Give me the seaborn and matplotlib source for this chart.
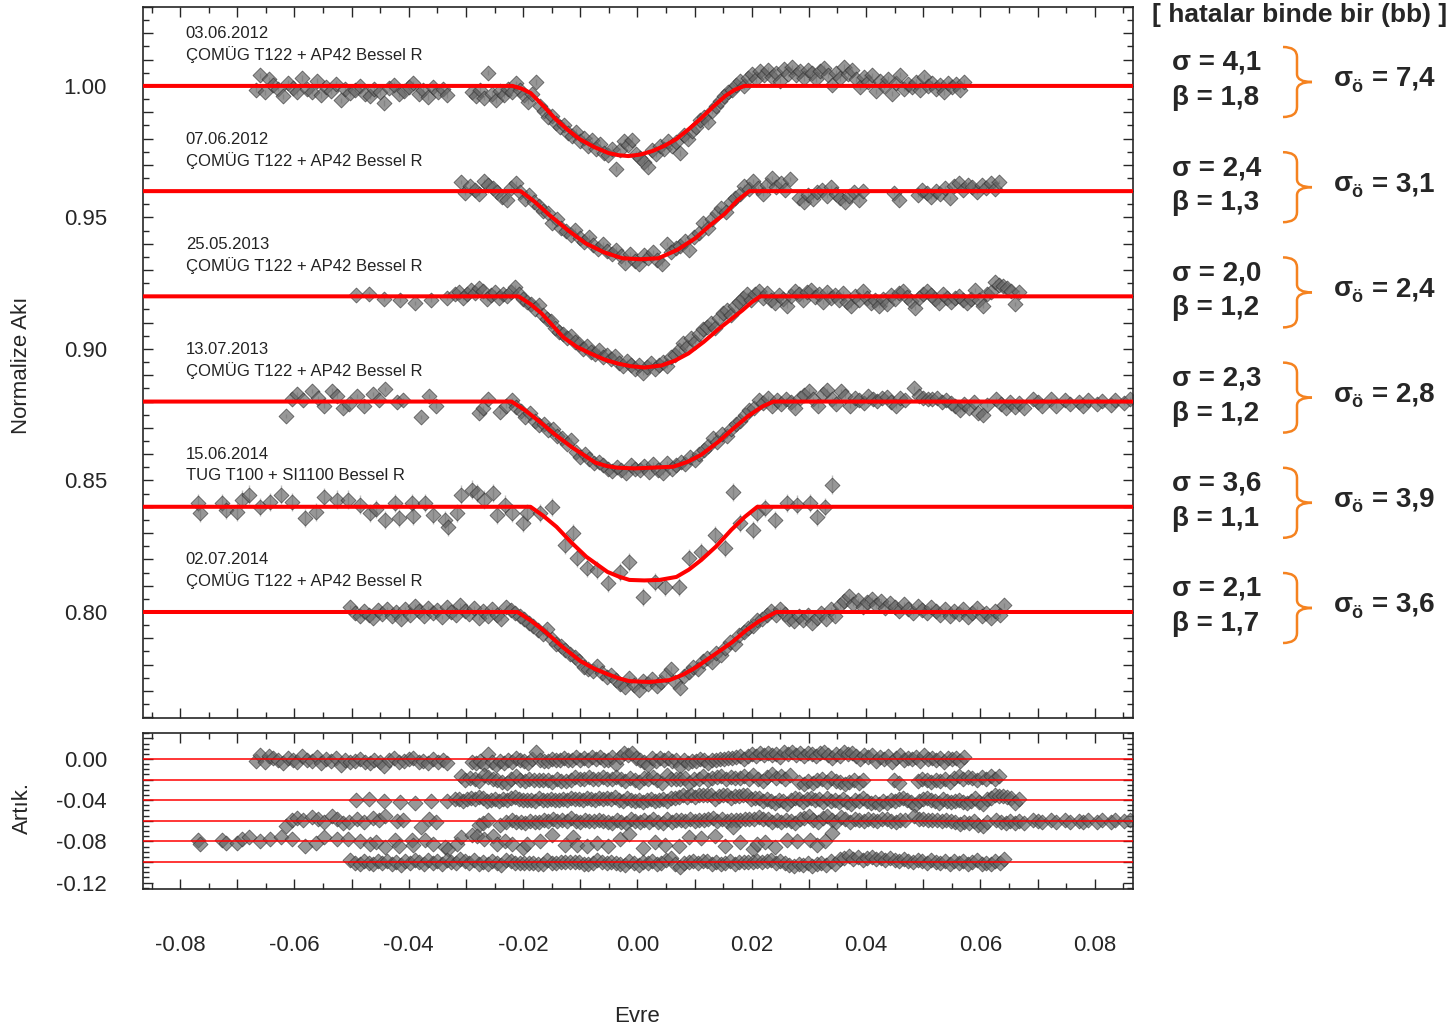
import numpy as np
import pandas as pd
import matplotlib
matplotlib.use("Agg")
import matplotlib.pyplot as plt
from matplotlib.ticker import MultipleLocator, FuncFormatter
from matplotlib.path import Path
from matplotlib.patches import PathPatch
import seaborn as sns

# ---------------- data ----------------
DATES = ["03.06.2012", "07.06.2012", "25.05.2013", "13.07.2013", "15.06.2014", "02.07.2014"]
SETUPS = ["ÇOMÜG T122 + AP42 Bessel R", "ÇOMÜG T122 + AP42 Bessel R",
          "ÇOMÜG T122 + AP42 Bessel R", "ÇOMÜG T122 + AP42 Bessel R",
          "TUG T100 + SI1100 Bessel R", "ÇOMÜG T122 + AP42 Bessel R"]
OFFSETS = [0.00, -0.04, -0.08, -0.12, -0.16, -0.20]
RES_OFFSETS = [0.00, -0.02, -0.04, -0.06, -0.08, -0.10]
SIGMA = ["4,1", "2,4", "2,0", "2,3", "3,6", "2,1"]
BETA = ["1,8", "1,3", "1,2", "1,2", "1,1", "1,7"]
SIGMA_O = ["7,4", "3,1", "2,4", "2,8", "3,9", "3,6"]
ERRS = [0.0010, 0.0008, 0.0008, 0.0008, 0.0035, 0.0008]

# (phase, normalized flux) per light curve
LC1 = [(-0.0668, 0.9985), (-0.0660, 1.0040), (-0.0652, 0.9975), (-0.0645, 1.0025), (-0.0637, 1.0005),
       (-0.0628, 0.9990), (-0.0620, 0.9960), (-0.0612, 1.0012), (-0.0603, 0.9992), (-0.0595, 0.9975),
       (-0.0587, 1.0030), (-0.0578, 0.9988), (-0.0570, 0.9978), (-0.0561, 1.0020), (-0.0553, 0.9965),
       (-0.0545, 0.9995), (-0.0536, 0.9980), (-0.0528, 1.0008), (-0.0519, 0.9945), (-0.0511, 0.9990),
       (-0.0502, 0.9972), (-0.0494, 0.9985), (-0.0485, 1.0000), (-0.0477, 0.9970), (-0.0468, 0.9962),
       (-0.0460, 0.9988), (-0.0451, 0.9975), (-0.0443, 0.9935), (-0.0434, 0.9992), (-0.0426, 1.0005),
       (-0.0417, 0.9968), (-0.0409, 0.9980), (-0.0400, 0.9995), (-0.0392, 1.0010), (-0.0383, 0.9970),
       (-0.0375, 0.9985), (-0.0366, 0.9958), (-0.0358, 0.9995), (-0.0349, 0.9975), (-0.0341, 0.9990),
       (-0.0333, 0.9965), (-0.0290, 0.9975), (-0.0283, 0.9960), (-0.0276, 0.9985), (-0.0269, 0.9955),
       (-0.0262, 1.0050), (-0.0255, 0.9970), (-0.0248, 0.9945), (-0.0241, 0.9982), (-0.0234, 0.9965),
       (-0.0227, 0.9990), (-0.0220, 0.9975), (-0.0213, 1.0010), (-0.0206, 0.9985), (-0.0199, 0.9965),
       (-0.0192, 0.9940), (-0.0185, 0.9968), (-0.0177, 1.0015), (-0.0170, 0.9925), (-0.0163, 0.9905),
       (-0.0156, 0.9880), (-0.0149, 0.9885), (-0.0142, 0.9860), (-0.0135, 0.9845), (-0.0128, 0.9852),
       (-0.0121, 0.9820), (-0.0114, 0.9810), (-0.0107, 0.9825), (-0.0100, 0.9790), (-0.0093, 0.9802),
       (-0.0086, 0.9770), (-0.0079, 0.9795), (-0.0072, 0.9760), (-0.0065, 0.9780), (-0.0058, 0.9745),
       (-0.0051, 0.9738), (-0.0044, 0.9760), (-0.0037, 0.9685), (-0.0030, 0.9755), (-0.0023, 0.9790),
       (-0.0016, 0.9775), (-0.0009, 0.9795), (-0.0002, 0.9742), (0.0005, 0.9725), (0.0012, 0.9712),
       (0.0019, 0.9690), (0.0026, 0.9758), (0.0033, 0.9740), (0.0040, 0.9772), (0.0047, 0.9760),
       (0.0054, 0.9790), (0.0061, 0.9770), (0.0068, 0.9788), (0.0075, 0.9745), (0.0082, 0.9815),
       (0.0089, 0.9798), (0.0096, 0.9830), (0.0103, 0.9845), (0.0110, 0.9872), (0.0117, 0.9880),
       (0.0124, 0.9862), (0.0131, 0.9905), (0.0138, 0.9925), (0.0145, 0.9942), (0.0152, 0.9960),
       (0.0159, 0.9975), (0.0166, 0.9985), (0.0173, 1.0005), (0.0180, 1.0018), (0.0187, 0.9998),
       (0.0194, 1.0030), (0.0201, 1.0045), (0.0208, 1.0025), (0.0215, 1.0055), (0.0222, 1.0040),
       (0.0229, 1.0060), (0.0236, 1.0035), (0.0243, 1.0050), (0.0250, 1.0020), (0.0257, 1.0065),
       (0.0264, 1.0045), (0.0271, 1.0070), (0.0278, 1.0040), (0.0285, 1.0058), (0.0292, 1.0030),
       (0.0299, 1.0062), (0.0306, 1.0048), (0.0313, 1.0025), (0.0320, 1.0055), (0.0327, 1.0068),
       (0.0334, 1.0040), (0.0341, 1.0005), (0.0348, 1.0050), (0.0355, 1.0030), (0.0362, 1.0072),
       (0.0369, 1.0045), (0.0376, 1.0060), (0.0383, 1.0025), (0.0390, 0.9995), (0.0397, 1.0035),
       (0.0404, 1.0015), (0.0411, 1.0040), (0.0418, 0.9980), (0.0425, 1.0020), (0.0432, 1.0000),
       (0.0439, 1.0028), (0.0446, 0.9970), (0.0453, 1.0010), (0.0460, 1.0042), (0.0467, 0.9990),
       (0.0474, 1.0008), (0.0481, 0.9995), (0.0488, 1.0015), (0.0495, 0.9985), (0.0502, 1.0035),
       (0.0509, 0.9998), (0.0516, 1.0012), (0.0523, 0.9990), (0.0530, 1.0005), (0.0537, 0.9975),
       (0.0544, 1.0010), (0.0551, 0.9995), (0.0558, 1.0008), (0.0565, 0.9985), (0.0572, 1.0015)]

LC2 = [(-0.0309, 1.0035), (-0.0301, 0.9992), (-0.0293, 1.0018), (-0.0285, 1.0005), (-0.0277, 0.9990),
       (-0.0269, 1.0040), (-0.0261, 1.0022), (-0.0253, 1.0010), (-0.0245, 0.9995), (-0.0237, 0.9978),
       (-0.0229, 0.9968), (-0.0221, 1.0010), (-0.0213, 1.0030), (-0.0205, 0.9995), (-0.0197, 0.9970),
       (-0.0189, 0.9985), (-0.0181, 0.9960), (-0.0173, 0.9945), (-0.0165, 0.9925), (-0.0157, 0.9915),
       (-0.0149, 0.9880), (-0.0141, 0.9895), (-0.0133, 0.9860), (-0.0125, 0.9848), (-0.0117, 0.9835),
       (-0.0109, 0.9852), (-0.0101, 0.9820), (-0.0093, 0.9808), (-0.0085, 0.9825), (-0.0077, 0.9795),
       (-0.0069, 0.9780), (-0.0061, 0.9798), (-0.0053, 0.9772), (-0.0045, 0.9760), (-0.0037, 0.9778),
       (-0.0029, 0.9752), (-0.0021, 0.9728), (-0.0013, 0.9760), (-0.0005, 0.9735), (0.0003, 0.9722),
       (0.0011, 0.9758), (0.0019, 0.9745), (0.0027, 0.9770), (0.0035, 0.9738), (0.0043, 0.9722),
       (0.0051, 0.9800), (0.0059, 0.9768), (0.0067, 0.9782), (0.0075, 0.9790), (0.0083, 0.9812),
       (0.0091, 0.9775), (0.0099, 0.9825), (0.0107, 0.9842), (0.0115, 0.9878), (0.0123, 0.9858),
       (0.0131, 0.9895), (0.0139, 0.9918), (0.0147, 0.9935), (0.0155, 0.9922), (0.0163, 0.9960),
       (0.0171, 0.9975), (0.0179, 0.9990), (0.0187, 1.0020), (0.0195, 1.0008), (0.0203, 1.0040),
       (0.0211, 1.0010), (0.0219, 0.9990), (0.0227, 1.0025), (0.0235, 1.0050), (0.0243, 1.0015),
       (0.0251, 1.0030), (0.0259, 1.0005), (0.0267, 1.0045), (0.0283, 0.9975), (0.0291, 0.9960),
       (0.0299, 0.9985), (0.0307, 0.9970), (0.0315, 0.9995), (0.0323, 1.0005), (0.0331, 0.9980),
       (0.0339, 1.0015), (0.0347, 0.9990), (0.0355, 0.9975), (0.0363, 0.9960), (0.0371, 0.9980),
       (0.0379, 0.9995), (0.0387, 0.9965), (0.0395, 1.0000), (0.0448, 0.9992), (0.0458, 0.9965),
       (0.0490, 0.9985), (0.0498, 1.0005), (0.0506, 0.9992), (0.0514, 0.9978), (0.0522, 1.0000),
       (0.0530, 0.9988), (0.0538, 1.0010), (0.0546, 0.9975), (0.0554, 1.0020), (0.0562, 1.0030),
       (0.0570, 1.0005), (0.0578, 1.0025), (0.0586, 1.0015), (0.0594, 0.9998), (0.0602, 1.0022),
       (0.0610, 1.0010), (0.0618, 1.0030), (0.0626, 1.0008), (0.0633, 1.0035)]

LC3 = [(-0.0493, 1.0005), (-0.0470, 1.0010), (-0.0443, 0.9990), (-0.0415, 0.9985), (-0.0390, 0.9975),
       (-0.0362, 0.9988), (-0.0334, 0.9995), (-0.0320, 1.0008), (-0.0313, 1.0015), (-0.0306, 0.9995),
       (-0.0299, 1.0010), (-0.0292, 1.0025), (-0.0285, 1.0012), (-0.0278, 1.0030), (-0.0271, 1.0020),
       (-0.0264, 0.9990), (-0.0257, 1.0005), (-0.0250, 1.0015), (-0.0243, 0.9995), (-0.0236, 1.0008),
       (-0.0229, 1.0000), (-0.0222, 1.0018), (-0.0215, 1.0035), (-0.0208, 1.0010), (-0.0201, 0.9990),
       (-0.0194, 0.9978), (-0.0187, 0.9970), (-0.0180, 0.9950), (-0.0173, 0.9968), (-0.0166, 0.9930),
       (-0.0159, 0.9912), (-0.0152, 0.9905), (-0.0145, 0.9880), (-0.0138, 0.9865), (-0.0131, 0.9858),
       (-0.0124, 0.9840), (-0.0117, 0.9850), (-0.0110, 0.9825), (-0.0103, 0.9818), (-0.0096, 0.9800),
       (-0.0089, 0.9812), (-0.0082, 0.9790), (-0.0075, 0.9780), (-0.0068, 0.9795), (-0.0061, 0.9770),
       (-0.0054, 0.9778), (-0.0047, 0.9762), (-0.0040, 0.9775), (-0.0033, 0.9748), (-0.0026, 0.9735),
       (-0.0019, 0.9755), (-0.0012, 0.9740), (-0.0005, 0.9722), (0.0002, 0.9738), (0.0009, 0.9710),
       (0.0016, 0.9730), (0.0023, 0.9745), (0.0030, 0.9725), (0.0037, 0.9738), (0.0044, 0.9752),
       (0.0051, 0.9735), (0.0058, 0.9768), (0.0065, 0.9778), (0.0072, 0.9795), (0.0079, 0.9822),
       (0.0086, 0.9808), (0.0093, 0.9840), (0.0100, 0.9828), (0.0107, 0.9858), (0.0114, 0.9875),
       (0.0121, 0.9885), (0.0128, 0.9900), (0.0135, 0.9878), (0.0142, 0.9918), (0.0149, 0.9935),
       (0.0156, 0.9948), (0.0163, 0.9930), (0.0170, 0.9962), (0.0177, 0.9980), (0.0184, 0.9995),
       (0.0191, 1.0010), (0.0198, 0.9985), (0.0205, 1.0008), (0.0212, 1.0020), (0.0219, 0.9995),
       (0.0226, 1.0012), (0.0233, 0.9988), (0.0240, 0.9975), (0.0247, 1.0005), (0.0254, 0.9990),
       (0.0261, 0.9965), (0.0268, 1.0000), (0.0275, 1.0020), (0.0282, 1.0008), (0.0289, 0.9985),
       (0.0296, 1.0015), (0.0303, 1.0025), (0.0310, 0.9998), (0.0317, 1.0010), (0.0324, 0.9980),
       (0.0331, 1.0018), (0.0338, 0.9995), (0.0345, 1.0005), (0.0352, 0.9985), (0.0359, 1.0012),
       (0.0366, 0.9978), (0.0373, 0.9965), (0.0380, 1.0002), (0.0387, 0.9988), (0.0394, 1.0020),
       (0.0401, 0.9995), (0.0408, 0.9975), (0.0415, 0.9985), (0.0422, 0.9962), (0.0429, 0.9990),
       (0.0436, 0.9972), (0.0443, 1.0005), (0.0450, 0.9990), (0.0457, 1.0012), (0.0464, 1.0022),
       (0.0471, 0.9998), (0.0478, 0.9982), (0.0485, 0.9955), (0.0492, 0.9995), (0.0499, 1.0010),
       (0.0506, 1.0020), (0.0513, 1.0005), (0.0520, 0.9990), (0.0527, 0.9975), (0.0534, 1.0008),
       (0.0541, 0.9992), (0.0548, 0.9980), (0.0555, 0.9995), (0.0562, 1.0000), (0.0569, 0.9985),
       (0.0576, 0.9975), (0.0583, 0.9990), (0.0590, 1.0025), (0.0597, 0.9985), (0.0604, 0.9965),
       (0.0611, 1.0010), (0.0618, 1.0018), (0.0625, 1.0055), (0.0632, 1.0045), (0.0639, 1.0040),
       (0.0646, 1.0030), (0.0653, 1.0020), (0.0660, 0.9970), (0.0667, 1.0015)]

LC4 = [(-0.0615, 0.9945), (-0.0605, 1.0010), (-0.0595, 1.0028), (-0.0585, 1.0005), (-0.0570, 1.0040),
       (-0.0558, 1.0015), (-0.0548, 0.9985), (-0.0535, 1.0042), (-0.0525, 1.0020), (-0.0515, 0.9975),
       (-0.0505, 0.9992), (-0.0490, 1.0020), (-0.0478, 0.9985), (-0.0462, 1.0030), (-0.0452, 1.0005),
       (-0.0442, 1.0048), (-0.0420, 1.0000), (-0.0410, 1.0005), (-0.0378, 0.9940), (-0.0365, 1.0020),
       (-0.0352, 0.9985), (-0.0278, 0.9955), (-0.0270, 0.9975), (-0.0262, 1.0010), (-0.0240, 0.9960),
       (-0.0230, 0.9985), (-0.0220, 1.0005), (-0.0212, 0.9980), (-0.0204, 0.9965), (-0.0196, 0.9940),
       (-0.0188, 0.9955), (-0.0180, 0.9925), (-0.0172, 0.9910), (-0.0164, 0.9915), (-0.0156, 0.9890),
       (-0.0148, 0.9895), (-0.0140, 0.9870), (-0.0132, 0.9860), (-0.0124, 0.9840), (-0.0116, 0.9852),
       (-0.0108, 0.9810), (-0.0100, 0.9790), (-0.0092, 0.9800), (-0.0084, 0.9780), (-0.0076, 0.9765),
       (-0.0068, 0.9770), (-0.0060, 0.9760), (-0.0052, 0.9745), (-0.0044, 0.9735), (-0.0036, 0.9752),
       (-0.0028, 0.9740), (-0.0020, 0.9728), (-0.0012, 0.9760), (-0.0004, 0.9745), (0.0004, 0.9738),
       (0.0012, 0.9755), (0.0020, 0.9732), (0.0028, 0.9762), (0.0036, 0.9740), (0.0044, 0.9728),
       (0.0052, 0.9765), (0.0060, 0.9745), (0.0068, 0.9760), (0.0076, 0.9770), (0.0084, 0.9762),
       (0.0092, 0.9790), (0.0100, 0.9778), (0.0108, 0.9800), (0.0116, 0.9815), (0.0124, 0.9832),
       (0.0132, 0.9860), (0.0140, 0.9845), (0.0148, 0.9875), (0.0156, 0.9868), (0.0164, 0.9895),
       (0.0172, 0.9915), (0.0180, 0.9928), (0.0188, 0.9950), (0.0196, 0.9968), (0.0204, 0.9975),
       (0.0212, 1.0005), (0.0220, 0.9995), (0.0228, 1.0012), (0.0236, 0.9985), (0.0244, 1.0005),
       (0.0252, 0.9990), (0.0260, 1.0008), (0.0268, 1.0000), (0.0276, 0.9975), (0.0284, 1.0015),
       (0.0292, 1.0025), (0.0300, 1.0042), (0.0308, 1.0010), (0.0316, 0.9985), (0.0324, 1.0030),
       (0.0332, 1.0045), (0.0340, 1.0008), (0.0348, 0.9990), (0.0356, 1.0040), (0.0364, 1.0020),
       (0.0372, 0.9985), (0.0380, 1.0015), (0.0388, 1.0005), (0.0396, 0.9995), (0.0404, 1.0020),
       (0.0412, 1.0008), (0.0420, 1.0002), (0.0428, 1.0015), (0.0436, 1.0018), (0.0444, 1.0000),
       (0.0452, 0.9985), (0.0460, 1.0012), (0.0468, 1.0005), (0.0484, 1.0050), (0.0492, 1.0020),
       (0.0500, 1.0015), (0.0508, 1.0010), (0.0516, 1.0008), (0.0524, 1.0012), (0.0532, 1.0000),
       (0.0540, 1.0005), (0.0548, 0.9995), (0.0556, 0.9985), (0.0564, 0.9968), (0.0572, 0.9992),
       (0.0580, 0.9975), (0.0588, 1.0000), (0.0596, 0.9958), (0.0604, 0.9950), (0.0612, 0.9988),
       (0.0628, 1.0008), (0.0636, 0.9990), (0.0644, 0.9975), (0.0652, 1.0000), (0.0660, 0.9980),
       (0.0668, 0.9995), (0.0676, 0.9975), (0.0692, 1.0010), (0.0700, 0.9998), (0.0708, 0.9985),
       (0.0724, 1.0010), (0.0732, 0.9985), (0.0748, 1.0005), (0.0756, 0.9990), (0.0772, 1.0000),
       (0.0780, 0.9985), (0.0788, 1.0005), (0.0804, 0.9992), (0.0812, 1.0003), (0.0828, 0.9988),
       (0.0836, 1.0005), (0.0852, 0.9995), (0.0862, 1.0008)]

LC5 = [(-0.0769, 1.0015), (-0.0766, 0.9977), (-0.0727, 1.0015), (-0.0720, 0.9989), (-0.0701, 0.9981),
       (-0.0691, 1.0027), (-0.0680, 1.0046), (-0.0661, 1.0000), (-0.0642, 1.0019), (-0.0624, 1.0046),
       (-0.0605, 1.0019), (-0.0582, 0.9958), (-0.0563, 0.9981), (-0.0549, 1.0038), (-0.0526, 1.0027),
       (-0.0507, 1.0027), (-0.0486, 1.0008), (-0.0467, 0.9977), (-0.0458, 0.9992), (-0.0441, 0.9950),
       (-0.0425, 1.0015), (-0.0418, 0.9958), (-0.0395, 1.0015), (-0.0392, 0.9966), (-0.0372, 1.0015),
       (-0.0358, 0.9970), (-0.0336, 0.9950), (-0.0332, 0.9924), (-0.0316, 0.9977), (-0.0309, 1.0046),
       (-0.0290, 1.0065), (-0.0280, 1.0053), (-0.0269, 1.0027), (-0.0253, 1.0053), (-0.0246, 0.9970),
       (-0.0231, 1.0008), (-0.0220, 0.9977), (-0.0201, 0.9939), (-0.0194, 0.9977), (-0.0171, 0.9977),
       (-0.0149, 1.0000), (-0.0126, 0.9855), (-0.0112, 0.9901), (-0.0105, 0.9806), (-0.0089, 0.9768),
       (-0.0070, 0.9760), (-0.0052, 0.9710), (-0.0030, 0.9752), (-0.0014, 0.9790), (0.0009, 0.9657),
       (0.0030, 0.9714), (0.0049, 0.9695), (0.0072, 0.9695), (0.0091, 0.9806), (0.0112, 0.9829),
       (0.0135, 0.9893), (0.0154, 0.9844), (0.0168, 1.0057), (0.0180, 0.9939), (0.0203, 0.9912),
       (0.0210, 0.9977), (0.0224, 0.9996), (0.0240, 0.9950), (0.0262, 1.0015), (0.0280, 1.0008),
       (0.0302, 1.0015), (0.0315, 0.9962), (0.0329, 1.0000), (0.0341, 1.0084)]

LC6 = [(-0.0502, 1.0020), (-0.0494, 0.9995), (-0.0486, 0.9985), (-0.0478, 1.0005), (-0.0470, 0.9990),
       (-0.0462, 0.9978), (-0.0454, 1.0008), (-0.0446, 0.9992), (-0.0438, 1.0012), (-0.0430, 0.9985),
       (-0.0422, 1.0000), (-0.0414, 0.9975), (-0.0406, 1.0010), (-0.0398, 0.9990), (-0.0390, 1.0022),
       (-0.0382, 1.0002), (-0.0374, 0.9985), (-0.0366, 1.0015), (-0.0358, 0.9995), (-0.0350, 1.0008),
       (-0.0342, 0.9980), (-0.0334, 1.0018), (-0.0326, 1.0000), (-0.0318, 0.9988), (-0.0310, 1.0025),
       (-0.0302, 1.0005), (-0.0294, 0.9992), (-0.0286, 1.0015), (-0.0278, 0.9978), (-0.0270, 1.0002),
       (-0.0262, 0.9985), (-0.0254, 1.0010), (-0.0246, 0.9990), (-0.0238, 0.9975), (-0.0230, 1.0020),
       (-0.0222, 1.0008), (-0.0214, 0.9995), (-0.0206, 0.9985), (-0.0198, 0.9972), (-0.0190, 0.9960),
       (-0.0182, 0.9948), (-0.0174, 0.9930), (-0.0166, 0.9918), (-0.0158, 0.9935), (-0.0150, 0.9898),
       (-0.0142, 0.9880), (-0.0134, 0.9872), (-0.0126, 0.9855), (-0.0118, 0.9842), (-0.0110, 0.9828),
       (-0.0102, 0.9815), (-0.0094, 0.9790), (-0.0086, 0.9782), (-0.0078, 0.9775), (-0.0070, 0.9795),
       (-0.0062, 0.9768), (-0.0054, 0.9752), (-0.0046, 0.9760), (-0.0038, 0.9742), (-0.0030, 0.9728),
       (-0.0022, 0.9715), (-0.0014, 0.9748), (-0.0006, 0.9722), (0.0002, 0.9705), (0.0010, 0.9738),
       (0.0018, 0.9725), (0.0026, 0.9745), (0.0034, 0.9718), (0.0042, 0.9732), (0.0050, 0.9760),
       (0.0058, 0.9785), (0.0066, 0.9735), (0.0074, 0.9712), (0.0082, 0.9758), (0.0090, 0.9772),
       (0.0098, 0.9790), (0.0106, 0.9782), (0.0114, 0.9812), (0.0122, 0.9825), (0.0130, 0.9808),
       (0.0138, 0.9845), (0.0146, 0.9838), (0.0154, 0.9862), (0.0162, 0.9885), (0.0170, 0.9878),
       (0.0178, 0.9912), (0.0186, 0.9925), (0.0194, 0.9938), (0.0202, 0.9945), (0.0210, 0.9968),
       (0.0218, 0.9975), (0.0226, 0.9990), (0.0234, 1.0005), (0.0242, 0.9988), (0.0250, 1.0010),
       (0.0258, 0.9992), (0.0266, 0.9975), (0.0274, 0.9965), (0.0282, 0.9985), (0.0290, 0.9970),
       (0.0298, 0.9990), (0.0306, 0.9958), (0.0314, 0.9978), (0.0322, 0.9995), (0.0330, 0.9972),
       (0.0338, 1.0010), (0.0346, 0.9985), (0.0354, 1.0025), (0.0362, 1.0040), (0.0370, 1.0060),
       (0.0378, 1.0030), (0.0386, 1.0045), (0.0394, 1.0020), (0.0402, 1.0038), (0.0410, 1.0050),
       (0.0418, 1.0025), (0.0426, 1.0042), (0.0434, 1.0015), (0.0442, 1.0035), (0.0450, 1.0020),
       (0.0458, 1.0005), (0.0466, 1.0030), (0.0474, 1.0012), (0.0482, 0.9998), (0.0490, 1.0022),
       (0.0498, 1.0008), (0.0506, 0.9995), (0.0514, 1.0018), (0.0522, 1.0002), (0.0530, 0.9990),
       (0.0538, 1.0012), (0.0546, 0.9985), (0.0554, 1.0005), (0.0562, 0.9992), (0.0570, 1.0010),
       (0.0578, 0.9980), (0.0586, 0.9998), (0.0594, 1.0015), (0.0602, 0.9985), (0.0610, 0.9995),
       (0.0618, 0.9978), (0.0626, 1.0005), (0.0634, 0.9990), (0.0642, 1.0025)]

# model curves (phase, normalized flux)
MOD1 = [(-0.0900, 1.0), (-0.02185, 1.0), (-0.0203, 0.9990), (-0.01871, 0.99733), (-0.0165, 0.9925),
        (-0.01434, 0.98743), (-0.0122, 0.9833), (-0.01014, 0.97981), (-0.0076, 0.9768),
        (-0.00507, 0.97448), (-0.0033, 0.97365), (-0.00157, 0.97333), (0.0005, 0.9739),
        (0.00262, 0.97524), (0.0047, 0.9772), (0.00682, 0.97981), (0.0089, 0.9834),
        (0.01101, 0.98743), (0.0132, 0.9920), (0.01538, 0.99619), (0.0170, 0.9985),
        (0.01871, 1.0), (0.0900, 1.0)]
MOD2 = [(-0.0900, 1.0), (-0.02045, 1.0), (-0.0180, 0.9960), (-0.01538, 0.99086), (-0.0122, 0.9852),
        (-0.00909, 0.98019), (-0.0058, 0.9767), (-0.00262, 0.97448), (0.00052, 0.97410),
        (0.00367, 0.97448), (0.0070, 0.9777), (0.01014, 0.98210), (0.0127, 0.9870),
        (0.01521, 0.99124), (0.0175, 0.9965), (0.01958, 1.0), (0.0900, 1.0)]
MOD3 = [(-0.0900, 1.0), (-0.02080, 1.0), (-0.0188, 0.9972), (-0.01678, 0.99352), (-0.01294, 0.98438),
        (-0.0106, 0.9808), (-0.00822, 0.97829), (-0.0058, 0.9760), (-0.00350, 0.97448),
        (-0.0012, 0.97345), (0.00122, 0.97295), (0.00420, 0.97371), (0.0066, 0.9756),
        (0.00892, 0.97829), (0.0116, 0.9827), (0.01434, 0.98781), (0.01836, 0.99467),
        (0.0200, 0.9978), (0.02150, 1.0), (0.0900, 1.0)]
MOD4 = [(-0.0900, 1.0), (-0.02203, 1.0), (-0.0196, 0.9966), (-0.01713, 0.99238), (-0.0142, 0.9871),
        (-0.01136, 0.98248), (-0.00734, 0.97676), (-0.0054, 0.9755), (-0.00350, 0.97486),
        (-0.0005, 0.9746), (0.00245, 0.97486), (0.00629, 0.97524), (0.0088, 0.9771),
        (0.01119, 0.97981), (0.0141, 0.9846), (0.01696, 0.99010), (0.0195, 0.9947),
        (0.02185, 0.99810), (0.02378, 1.0), (0.0900, 1.0)]
MOD5 = [(-0.0900, 1.0), (-0.01871, 1.0), (-0.0165, 0.9966), (-0.01416, 0.99238), (-0.0115, 0.9863),
        (-0.00892, 0.98095), (-0.00524, 0.97524), (-0.0033, 0.9735), (-0.00140, 0.97219),
        (0.0012, 0.9720), (0.00385, 0.97219), (0.00682, 0.97333), (0.0090, 0.9761),
        (0.01119, 0.97981), (0.0138, 0.9850), (0.01643, 0.99124), (0.0188, 0.9962),
        (0.02098, 1.0), (0.0900, 1.0)]
MOD6 = [(-0.0900, 1.0), (-0.02098, 1.0), (-0.0187, 0.9968), (-0.01626, 0.99276), (-0.0131, 0.9867),
        (-0.00997, 0.98133), (-0.0076, 0.9785), (-0.00524, 0.97638), (-0.0033, 0.9748),
        (-0.00140, 0.97371), (0.0021, 0.9734), (0.00560, 0.97410), (0.0080, 0.9762),
        (0.01031, 0.97905), (0.0134, 0.9837), (0.01661, 0.98857), (0.0190, 0.9930),
        (0.02133, 0.99657), (0.02430, 1.0), (0.0900, 1.0)]

CURVES = [LC1, LC2, LC3, LC4, LC5, LC6]
MODELS = [MOD1, MOD2, MOD3, MOD4, MOD5, MOD6]

# ---------------- style ----------------
sns.set_style("ticks")
plt.rcParams["font.family"] = ["Liberation Sans", "DejaVu Sans"]
plt.rcParams["axes.linewidth"] = 1.2

W, H = 1453, 1029
fig = plt.figure(figsize=(W / 100, H / 100), dpi=100)


def fx(px):
    return px / W


def fy(py):
    return 1 - py / H


ax = fig.add_axes([fx(143), fy(718), fx(1133) - fx(143), fy(7) - fy(718)])
axr = fig.add_axes([fx(143), fy(889), fx(1133) - fx(143), fy(733) - fy(889)])

XLIM = (-0.0865, 0.0867)
face = "#666666"
edge = "#2e2e2e"

frames = []
res_frames = []
for i, (lc, mod) in enumerate(zip(CURVES, MODELS)):
    ph = np.array([p[0] for p in lc])
    fl = np.array([p[1] for p in lc])
    mph = np.array([p[0] for p in mod])
    mfl = np.array([p[1] for p in mod])
    frames.append(pd.DataFrame({"phase": ph, "flux": fl + OFFSETS[i], "set": i}))
    res = fl - np.interp(ph, mph, mfl) + RES_OFFSETS[i]
    res_frames.append(pd.DataFrame({"phase": ph, "res": res, "set": i}))
    ax.errorbar(ph, fl + OFFSETS[i], yerr=ERRS[i], fmt="none", ecolor="#c0c0c0",
                elinewidth=1.0, zorder=1)
df = pd.concat(frames, ignore_index=True)
dres = pd.concat(res_frames, ignore_index=True)

sns.scatterplot(data=df, x="phase", y="flux", ax=ax, marker="D", s=58,
                color=face, edgecolor=edge, linewidth=0.6, alpha=0.68, zorder=2, legend=False)
for i, mod in enumerate(MODELS):
    mph = [p[0] for p in mod]
    mfl = [p[1] + OFFSETS[i] for p in mod]
    sns.lineplot(x=mph, y=mfl, ax=ax, color="#ff0000", lw=2.9, sort=True,
                 estimator=None, zorder=3)

sns.scatterplot(data=dres, x="phase", y="res", ax=axr, marker="D", s=58,
                color=face, edgecolor=edge, linewidth=0.6, alpha=0.68, zorder=2, legend=False)
for off in RES_OFFSETS:
    axr.axhline(off, color="#ff0000", lw=1.1, zorder=3)

for i in range(6):
    ax.text(-0.0790, 1.0198 + OFFSETS[i], DATES[i], fontsize=12, color="#222222",
            ha="left", va="center")
    ax.text(-0.0790, 1.0118 + OFFSETS[i], SETUPS[i], fontsize=12, color="#222222",
            ha="left", va="center")

ax.set_xlim(*XLIM)
ax.set_ylim(0.7597, 1.0300)
axr.set_xlim(*XLIM)
axr.set_ylim(-0.1262, 0.0252)


def lab_every(step):
    def f(v, pos):
        k = v / step
        if abs(k - round(k)) < 1e-6:
            s = f"{v:.2f}"
            if s == "-0.00":
                s = "0.00"
            return s
        return ""
    return f


for a in (ax, axr):
    a.xaxis.set_major_locator(MultipleLocator(0.01))
    a.xaxis.set_minor_locator(MultipleLocator(0.005))
    a.tick_params(which="both", direction="in", top=True, right=True, width=1.0)
    a.tick_params(which="major", length=7)
    a.tick_params(which="minor", length=4)
    a.set_xlabel("")
    a.set_ylabel("")
    for sp in a.spines.values():
        sp.set_visible(True)
        sp.set_linewidth(1.2)

ax.yaxis.set_major_locator(MultipleLocator(0.01))
ax.yaxis.set_minor_locator(MultipleLocator(0.005))
ax.yaxis.set_major_formatter(FuncFormatter(lab_every(0.05)))
ax.tick_params(axis="x", labelbottom=False)
ax.tick_params(axis="y", labelsize=16, pad=26)

axr.yaxis.set_major_locator(MultipleLocator(0.02))
axr.yaxis.set_minor_locator(MultipleLocator(0.005))
axr.yaxis.set_major_formatter(FuncFormatter(lab_every(0.04)))
axr.xaxis.set_major_formatter(FuncFormatter(lab_every(0.02)))
axr.tick_params(axis="y", labelsize=16, pad=26)
axr.tick_params(axis="x", labelsize=16, pad=33)

fig.text(fx(22), fy(365), "Normalize Akı", rotation=90, ha="center", va="center", fontsize=16)
fig.text(fx(22), fy(808), "Artık.", rotation=90, ha="center", va="center", fontsize=16)
fig.text(fx(637), fy(1017), "Evre", ha="center", va="center", fontsize=16)

# right-hand error summary
fig.text(fx(1300), fy(15), "[ hatalar binde bir (bb) ]", ha="center", va="center",
         fontsize=19, fontweight="bold")
orange = "#f5821f"
for i in range(6):
    yc = 80 + 105.2 * i
    fig.text(fx(1172), fy(yc - 17), f"σ = {SIGMA[i]}", ha="left", va="center",
             fontsize=20, fontweight="bold")
    fig.text(fx(1172), fy(yc + 18), f"β = {BETA[i]}", ha="left", va="center",
             fontsize=20, fontweight="bold")
    fig.text(fx(1334), fy(yc - 1), "σ", ha="left", va="center", fontsize=20, fontweight="bold")
    fig.text(fx(1351), fy(yc + 7), "ö", ha="left", va="center", fontsize=13, fontweight="bold")
    fig.text(fx(1372), fy(yc - 1), f"= {SIGMA_O[i]}", ha="left", va="center",
             fontsize=20, fontweight="bold")
    top, bot, mid = yc - 33, yc + 37, yc + 2
    xs, xv, xt = 1283, 1297, 1312
    upper = [(xs, top), (xv, top), (xv, top + 10), (xv, mid - 8), (xv, mid), (xt, mid)]
    lower = [(xt, mid), (xv, mid), (xv, mid + 8), (xv, bot - 10), (xv, bot), (xs, bot)]
    codes = [Path.MOVETO, Path.CURVE3, Path.CURVE3, Path.LINETO, Path.CURVE3, Path.CURVE3]
    for pts in (upper, lower):
        verts = [(fx(px), fy(py)) for px, py in pts]
        patch = PathPatch(Path(verts, codes), facecolor="none", edgecolor=orange, lw=1.8,
                          transform=fig.transFigure)
        fig.patches.append(patch)

fig.savefig("out.png", dpi=100)
